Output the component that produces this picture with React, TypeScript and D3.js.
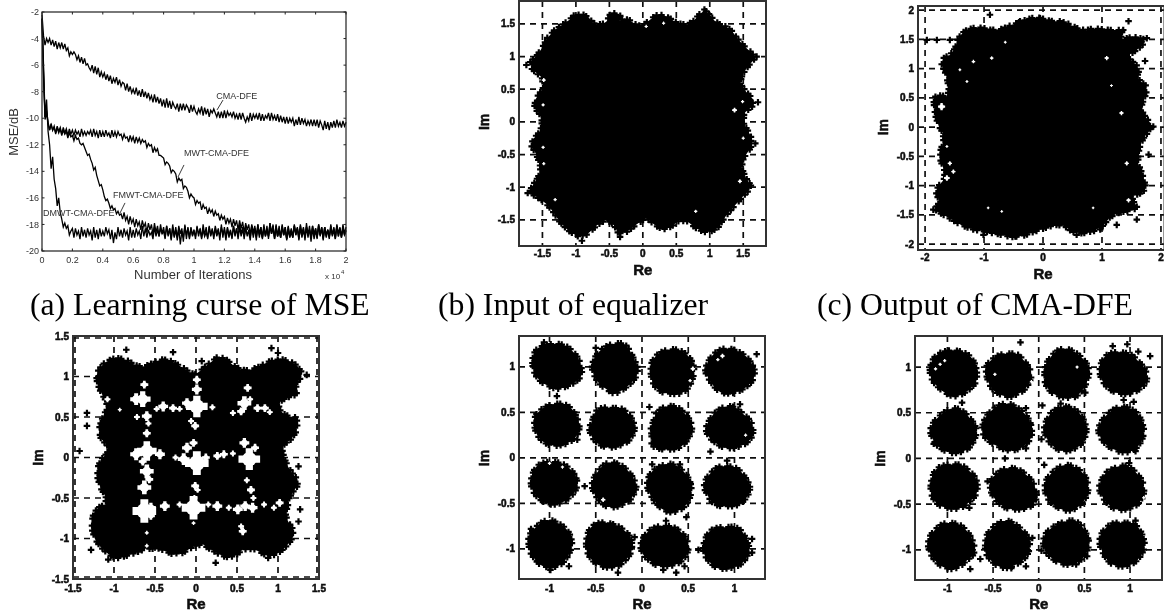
import React from "react";
import * as d3 from "d3";

// ---------- Learning curves (dB) ----------
// first half-steps of each 100-iteration pair
const cmaDfeEven = [
  -2.2,-4.0,-4.3,-4.1,-4.6,-4.3,-4.7,-4.4,-4.9,-5.0,
  -5.2,-5.6,-5.3,-5.9,-5.5,-6.2,-6.4,-6.1,-6.7,-6.5,
  -6.9,-6.7,-7.2,-7.0,-7.3,-7.1,-7.6,-7.9,-7.4,-8.1,
  -7.8,-8.3,-7.9,-8.4,-8.0,-8.6,-8.3,-8.8,-8.4,-9.1,
  -8.6,-9.2,-8.7,-9.1,-9.3,-8.9,-9.4,-9.0,-9.2,-9.5,
  -9.1,-9.3,-9.6,-9.2,-9.7,-9.4,-9.6,-9.9,-9.5,-10.0,
  -9.4,-9.8,-9.6,-10.0,-9.7,-10.1,-9.6,-9.9,-10.2,-9.7,
  -10.0,-9.6,-10.2,-9.8,-10.0,-9.6,-10.1,-9.7,-10.3,-9.9,
  -10.4,-10.0,-10.3,-10.1,-10.5,-10.0,-10.4,-10.2,-10.5,-10.1,
  -10.6,-10.2,-10.5,-10.8,-10.3,-10.7,-10.2,-10.6,-10.3,-10.6,-10.3,
];
const mwtCmaDfeEven = [
  -2.5,-9.6,-10.4,-10.9,-10.7,-11.0,-10.7,-11.1,-10.8,-11.2,
  -10.9,-11.2,-11.0,-11.3,-11.0,-11.2,-10.9,-11.3,-11.0,-11.4,
  -11.0,-11.3,-11.1,-11.4,-11.0,-11.3,-11.2,-11.5,-11.4,-11.7,
  -11.4,-11.8,-11.5,-11.8,-11.7,-12.1,-12.0,-12.5,-12.3,-12.9,
  -13.0,-13.4,-13.6,-14.0,-14.2,-14.7,-14.6,-15.2,-15.5,-15.9,
  -16.0,-16.4,-16.3,-16.8,-16.7,-17.1,-16.9,-17.3,-17.2,-17.6,
  -17.4,-17.9,-17.6,-18.1,-17.7,-18.3,-17.8,-18.4,-18.0,-18.6,
  -18.1,-18.7,-18.2,-18.9,-18.1,-18.7,-18.3,-18.9,-18.1,-18.8,
  -18.2,-18.9,-18.3,-18.7,-18.2,-19.0,-18.3,-18.8,-18.1,-18.9,
  -18.3,-18.8,-18.2,-19.0,-18.4,-18.8,-18.2,-18.9,-18.3,-18.7,-18.2,
];
const fmwtCmaDfeEven = [
  -2.5,-9.4,-10.3,-10.9,-10.6,-11.1,-10.8,-11.2,-11.0,-11.4,
  -11.3,-11.6,-11.5,-11.9,-12.2,-12.7,-13.1,-13.7,-14.3,-15.0,
  -15.4,-16.1,-16.4,-16.9,-16.8,-17.3,-17.2,-17.7,-17.4,-17.9,
  -17.6,-18.1,-17.8,-18.2,-17.9,-18.4,-18.0,-18.6,-18.1,-18.7,
  -18.2,-18.8,-18.3,-18.9,-18.2,-18.7,-18.3,-19.1,-18.2,-18.8,
  -18.4,-18.9,-18.3,-18.8,-18.2,-18.9,-18.4,-18.7,-18.3,-19.0,
  -18.2,-18.8,-18.4,-18.9,-18.3,-18.7,-18.2,-18.9,-18.4,-18.8,
  -18.3,-19.0,-18.2,-18.8,-18.4,-18.7,-18.1,-18.9,-18.3,-18.8,
  -18.2,-18.9,-18.4,-18.8,-18.3,-18.7,-18.2,-19.0,-18.4,-18.7,
  -18.3,-18.9,-18.2,-18.8,-18.4,-18.9,-18.3,-18.7,-18.2,-18.8,-18.4,
];
const dmwtCmaDfeEven = [
  -2.5,-8.6,-11.0,-12.9,-14.6,-16.0,-17.1,-17.9,-18.3,-18.5,
  -18.3,-18.8,-18.5,-18.9,-18.4,-18.8,-18.5,-19.0,-18.4,-18.9,
  -18.5,-18.7,-18.4,-19.4,-18.6,-18.9,-18.4,-18.8,-18.5,-19.0,
  -18.4,-18.8,-18.5,-18.9,-18.3,-18.8,-18.6,-18.9,-18.4,-18.7,
  -18.5,-18.9,-18.3,-19.0,-18.4,-19.5,-18.5,-18.8,-18.3,-18.9,
  -18.5,-18.7,-18.4,-18.9,-18.6,-18.8,-18.3,-18.9,-18.5,-18.7,
  -18.4,-19.0,-18.5,-18.8,-18.3,-18.9,-18.4,-18.7,-18.6,-19.0,
  -18.3,-18.8,-18.5,-18.9,-18.4,-18.7,-18.0,-18.9,-18.5,-18.8,
  -18.4,-19.0,-18.6,-18.8,-18.3,-18.9,-18.5,-18.7,-18.4,-19.1,
  -18.5,-18.8,-18.3,-18.9,-18.4,-18.7,-18.6,-18.9,-18.3,-18.8,-18.5,
];
// second half-steps of each pair
const cmaDfeOdd = [
  -3.8,-4.5,-4.0,-4.5,-4.2,-4.8,-4.3,-4.8,-4.7,-5.3,
  -5.0,-5.2,-5.8,-5.4,-6.0,-5.9,-6.0,-6.6,-6.2,-6.9,
  -6.6,-7.1,-6.8,-7.4,-6.9,-7.5,-7.3,-7.4,-8.0,-7.6,
  -8.2,-7.7,-8.4,-7.8,-8.5,-8.1,-8.8,-8.2,-8.9,-8.5,
  -9.2,-8.5,-9.3,-8.8,-8.9,-9.5,-8.9,-9.4,-9.6,-9.0,
  -9.5,-9.7,-9.1,-9.8,-9.3,-9.9,-9.3,-9.6,-10.0,-9.5,
  -10.0,-9.5,-9.9,-9.5,-10.1,-9.6,-10.0,-10.3,-9.6,-10.2,
  -9.7,-10.1,-9.7,-10.2,-9.6,-10.2,-9.8,-10.2,-9.8,-10.3,
  -9.9,-10.4,-10.0,-10.6,-9.9,-10.5,-10.1,-10.6,-10.1,-10.6,
  -10.1,-10.7,-10.9,-10.2,-10.9,-10.3,-10.7,-10.1,-10.7,-10.2,
];
const mwtCmaDfeOdd = [
  -6.8,-10.1,-10.9,-10.5,-11.1,-10.6,-11.2,-10.7,-11.3,-10.8,
  -11.3,-10.9,-11.4,-10.8,-11.3,-11.0,-11.4,-10.8,-11.5,-10.9,
  -11.4,-10.9,-11.5,-10.9,-11.4,-11.0,-11.6,-11.2,-11.8,-11.3,
  -11.9,-11.4,-11.9,-11.6,-12.2,-11.9,-12.6,-12.2,-12.8,-12.8,
  -13.5,-13.3,-14.1,-13.9,-14.8,-14.5,-15.3,-15.1,-16.0,-15.7,
  -16.5,-16.2,-16.9,-16.5,-17.2,-16.8,-17.4,-17.0,-17.7,-17.3,
  -18.0,-17.5,-18.2,-17.6,-18.4,-17.7,-18.6,-17.9,-18.8,-18.0,
  -18.9,-18.0,-19.0,-18.0,-19.1,-18.1,-19.0,-18.0,-19.0,-18.1,
  -19.1,-18.1,-18.9,-18.0,-19.2,-18.1,-19.0,-17.9,-19.1,-18.1,
  -19.0,-18.0,-19.2,-18.2,-19.0,-18.0,-19.1,-18.1,-18.9,-18.0,
];
const fmwtCmaDfeOdd = [
  -6.5,-9.9,-10.9,-10.4,-11.2,-10.7,-11.3,-10.9,-11.5,-11.1,
  -11.7,-11.3,-11.9,-12.0,-12.5,-12.8,-13.4,-13.9,-14.7,-15.1,
  -15.9,-16.2,-16.8,-16.6,-17.2,-17.0,-17.6,-17.1,-18.0,-17.4,
  -18.2,-17.6,-18.4,-17.7,-18.6,-17.9,-18.8,-17.9,-18.9,-18.0,
  -19.0,-18.1,-19.1,-18.0,-19.0,-18.1,-19.3,-18.0,-19.0,-18.2,
  -19.1,-18.1,-19.0,-18.0,-19.1,-18.2,-18.9,-18.1,-19.2,-18.0,
  -19.0,-18.2,-19.1,-18.1,-18.9,-18.0,-19.1,-18.2,-19.0,-18.1,
  -19.2,-18.0,-19.0,-18.2,-18.9,-17.9,-19.1,-18.1,-19.0,-18.0,
  -19.1,-18.2,-19.0,-18.1,-18.9,-18.0,-19.2,-18.2,-18.9,-18.1,
  -19.1,-18.0,-19.0,-18.2,-19.1,-18.1,-18.9,-18.0,-19.0,-18.2,
];
const dmwtCmaDfeOdd = [
  -6.0,-9.9,-12.0,-13.8,-15.3,-16.6,-17.6,-18.2,-18.1,-18.8,
  -19.0,-18.3,-19.1,-18.2,-19.0,-18.3,-19.2,-18.2,-19.1,-18.3,
  -18.9,-18.2,-19.1,-18.4,-19.1,-18.2,-19.0,-18.3,-19.2,-18.2,
  -19.0,-18.3,-19.1,-18.1,-19.0,-18.4,-19.1,-18.2,-18.9,-18.3,
  -19.1,-18.1,-19.2,-18.2,-19.2,-18.3,-19.0,-18.1,-19.1,-18.3,
  -18.9,-18.2,-19.1,-18.4,-19.0,-18.1,-19.1,-18.3,-18.9,-18.2,
  -19.2,-18.3,-19.0,-18.1,-19.1,-18.2,-18.9,-18.4,-19.2,-18.1,
  -19.0,-18.3,-19.1,-18.2,-18.9,-17.9,-19.1,-18.3,-19.0,-18.2,
  -19.2,-18.4,-19.0,-18.1,-19.1,-18.3,-18.9,-18.2,-19.3,-18.3,
  -19.0,-18.1,-19.1,-18.2,-18.9,-18.4,-19.1,-18.1,-19.0,-18.3,
];
const curveLabels = ["CMA-DFE", "MWT-CMA-DFE", "FMWT-CMA-DFE", "DMWT-CMA-DFE"];
const curveLabelAnchors = [[11460, -8.35], [9340, -12.62], [4670, -15.75], [70, -17.13]];
const curveLeaders = [
  [[11908, -8.63], [11513, -9.38]],
  [[9342, -13.52], [8947, -14.43]],
  [[5461, -16.38], [5132, -17.14]],
];
const iterTicks = [0, 2000, 4000, 6000, 8000, 10000, 12000, 14000, 16000, 18000, 20000];
const iterTickLabels = ["0", "0.2", "0.4", "0.6", "0.8", "1", "1.2", "1.4", "1.6", "1.8", "2"];
const mseTicks = [-2, -4, -6, -8, -10, -12, -14, -16, -18, -20];

const captions = ["(a) Learning curse of MSE", "(b) Input of equalizer", "(c) Output of CMA-DFE"];

// ---------- Constellation outlines, stray symbols and gaps (Re, Im) ----------
const inputOutline = [
  [-1.04,1.64],[-.84,1.64],[-.72,1.48],[-.54,1.51],[-.49,1.67],[-.32,1.65],[-.39,1.54],[-.24,1.59],[-.04,1.44],[.10,1.56],
  [.22,1.65],[.37,1.61],[.51,1.51],[.70,1.48],[.90,1.71],[.97,1.68],[1.10,1.51],[1.30,1.44],[1.45,1.22],[1.70,.99],
  [1.55,.83],[1.45,.64],[1.49,.52],[1.70,.29],[1.45,.08],[1.67,-.32],[1.45,-.63],[1.55,-.89],[1.64,-.99],[1.45,-1.19],
  [1.19,-1.50],[1.15,-1.61],[.97,-1.70],[.82,-1.65],[.60,-1.47],[.36,-1.65],[.21,-1.61],[.06,-1.47],[0,-1.50],[-.34,-1.76],
  [-.45,-1.54],[-.60,-1.50],[-.91,-1.80],[-1.19,-1.61],[-1.39,-1.30],[-1.57,-1.15],[-1.72,-1.09],[-1.51,-.76],[-1.57,-.54],[-1.69,-.32],
  [-1.51,-.12],[-1.51,.08],[-1.66,.26],[-1.43,.61],[-1.73,.87],[-1.54,1.06],[-1.39,1.36],[-1.09,1.56],
];
const inputStrays = [[1.70,1.0],[1.72,.3],[1.68,-.33],[-1.74,.87],[-1.72,-1.09],[.92,1.72],[-.91,-1.82],[-.34,-1.76]];
const inputGaps = [[-1.49,.26,.02],[-1.49,-.39,.02],[-1.48,-.64,.02],[-1.31,-1.19,.02],[.79,-1.37,.02],[.05,1.46,.02],[.31,1.51,.02],[-1.48,.64,.025],[1.37,.18,.03],[1.49,.31,.02],[1.45,-.91,.025],[1.5,-.25,.02]];

const cmaOutline = [
  [-1.41,1.61],[-1.12,1.72],[-.79,1.64],[-.45,1.78],[-.11,1.89],[.12,1.81],[.34,1.81],[.68,1.64],[.85,1.69],[1.08,1.66],
  [1.36,1.66],[1.31,1.49],[1.53,1.55],[1.76,1.49],[1.64,1.35],[1.42,1.21],[1.64,1.01],[1.59,.84],[1.79,.67],[1.64,.30],
  [1.87,.01],[1.67,-.22],[1.59,-.56],[1.70,-.84],[1.76,-1.10],[1.47,-1.19],[1.64,-1.41],[1.19,-1.47],[.97,-1.75],[.57,-1.84],
  [.29,-1.64],[-.05,-1.75],[-.45,-1.90],[-.84,-1.81],[-1.29,-1.73],[-1.63,-1.53],[-1.86,-1.41],[-1.75,-1.30],[-1.83,-1.07],[-1.63,-.84],
  [-1.77,-.50],[-1.66,-.16],[-1.80,.07],[-1.86,.41],[-1.83,.55],[-1.58,.52],[-1.63,.87],[-1.75,1.15],[-1.52,1.26],
];
const cmaStrays = [[-1.97,1.49],[-1.80,1.49],[-1.58,1.49],[-.90,1.92],[-.39,1.81],[-.05,1.86],[1.45,1.81],[1.76,1.52],[1.73,1.13],[1.79,-.47],[1.25,-1.67],[1.59,-1.58],[-1.01,-1.84],[-1.86,-1.41],[-.47,-1.87],[1.87,.01],[1.36,1.66],[.97,-1.75],[.57,-1.84]];
const cmaGaps = [[-.64,1.45,.02],[-.87,1.18,.025],[-1.18,1.12,.025],[-1.29,.78,.02],[1.33,.24,.03],[1.16,.71,.02],[1.08,1.18,.03],[-1.58,-.62,.03],[-1.52,-.76,.03],[-1.63,-.87,.04],[-.70,-1.44,.02],[-.93,-1.38,.02],[.85,-1.38,.02],[1.42,-.62,.03],[-1.63,-.33,.02],[-1.41,.98,.02],[-1.72,.35,.05],[1.45,-1.25,.03]];

const dmwtOutline = [
  [-1.08,1.21],[-.89,1.23],[-.69,1.11],[-.56,1.15],[-.38,1.23],[-.19,1.13],[-.03,1.02],[.03,1.05],[.12,1.13],[.30,1.27],
  [.51,1.09],[.67,1.07],[.98,1.23],[1.21,1.17],[1.31,1.02],[1.21,.90],[1.25,.78],[1.04,.72],[1.00,.61],[1.10,.51],
  [1.25,.49],[1.21,.26],[1.04,.14],[1.08,-.02],[1.14,-.15],[1.27,-.31],[1.14,-.48],[1.12,-.60],[1.08,-.72],[1.21,-.93],
  [1.12,-1.09],[.92,-1.24],[.63,-1.09],[.42,-1.26],[.18,-1.14],[.05,-1.05],[-.23,-1.22],[-.52,-1.09],[-.91,-1.24],[-1.02,-1.24],
  [-1.22,-1.05],[-1.28,-.85],[-1.24,-.64],[-1.06,-.56],[-1.20,-.31],[-1.20,-.07],[-1.04,.10],[-1.20,.28],[-1.14,.51],[-1.06,.63],
  [-1.20,.88],[-1.22,1.05],
];
const dmwtStrays = [[-.85,1.33],[-.28,1.30],[.07,1.19],[.92,1.35],[1.00,1.29],[1.35,1.02],[-1.33,.55],[-1.33,.39],[-1.42,.08],[1.25,-.11],[1.27,-.64],[1.25,-.79],[-1.28,-1.14],[-1.07,-1.26],[.24,-1.30],[.88,-1.24],[1.2,.47]];
const dmwtGaps = [
  [-.65,.72,.08],[-.73,.72,.06],[-.60,.51,.05],[-.60,.30,.04],[-.40,.63,.05],[-.28,.61,.04],[.01,.63,.11],[-.11,.67,.05],[-.01,.39,.04],[-.03,.18,.04],
  [-.60,.08,.10],[-.73,.04,.06],[-.44,.04,.05],[-.11,.12,.05],[.01,-.07,.12],[-.15,-.02,.06],[.26,.02,.04],[.34,.04,.04],[.65,-.02,.11],[.59,.18,.05],
  [.67,-.40,.04],[.59,.67,.07],[.75,.61,.04],[.84,.61,.04],[.55,.57,.04],[-.63,-.37,.07],[-.60,-.17,.07],[-.63,-.66,.12],[-.38,-.60,.05],[-.03,-.62,.12],
  [.26,-.60,.05],[.51,-.64,.05],[.69,-.62,.05],[1.02,-.56,.04],[-.01,-.35,.04],[.01,.84,.05],[-.63,.90,.04],[.63,.86,.04],[.01,.96,.04],[-.03,-.81,.02],
  [.57,-.91,.04],[-.60,-.93,.02],[-.60,-1.09,.02],[-1.08,.72,.03],[-.93,.59,.02],[.02,-.4,.03],[-.55,-.62,.05],[.6,-.6,.05],
  [-.48,.60,.03],[-.2,.6,.03],[.2,.62,.03],[.45,.55,.03],[.66,.72,.03],[.9,.56,.03],[-.72,.5,.03],[-.58,.42,.03],[-.06,.45,.03],[-.57,-.27,.04],
  [-.65,-.05,.04],[.12,.0,.04],[.45,.05,.03],[-.25,.0,.03],[.72,.12,.04],[.62,-.28,.03],[.7,-.5,.03],[-.55,-.72,.04],[-.2,-.58,.03],[.15,-.58,.03],
  [.4,-.62,.03],[.83,-.58,.03],[.95,-.62,.03],[.55,-.85,.03],[-.02,-.5,.03],
];

// cluster centres (Re, Im) and radii, 16 directions counter-clockwise from east
const fmwtCentres = [
  [-.92,1.01],[-.30,1.00],[.33,.96],[.95,.96],
  [-.92,.37],[-.32,.33],[.30,.33],[.95,.33],
  [-.95,-.28],[-.31,-.30],[.29,-.32],[.92,-.32],
  [-.99,-.95],[-.36,-.96],[.26,-.97],[.91,-.99],
];
const fmwtRadii = [
  [.28,.26,.25,.26,.26,.27,.31,.30,.28,.27,.26,.25,.27,.26,.28,.31],
  [.27,.24,.26,.30,.27,.26,.25,.25,.26,.25,.26,.27,.32,.28,.27,.28],
  [.25,.25,.25,.25,.25,.25,.26,.26,.25,.26,.28,.28,.27,.29,.27,.25],
  [.29,.26,.25,.24,.26,.27,.27,.27,.29,.26,.26,.28,.27,.26,.27,.29],
  [.26,.24,.25,.25,.24,.24,.25,.27,.26,.26,.26,.26,.25,.25,.26,.27],
  [.26,.25,.25,.25,.23,.26,.28,.24,.27,.26,.25,.24,.23,.22,.24,.25],
  [.26,.25,.24,.26,.26,.25,.23,.20,.22,.22,.30,.27,.25,.26,.25,.25],
  [.27,.25,.22,.24,.26,.25,.25,.25,.28,.27,.24,.24,.24,.24,.26,.28],
  [.27,.26,.25,.25,.25,.27,.29,.27,.27,.26,.25,.25,.25,.24,.24,.26],
  [.27,.24,.24,.25,.27,.27,.24,.24,.25,.24,.24,.26,.26,.25,.26,.26],
  [.26,.25,.25,.26,.28,.26,.27,.26,.25,.23,.23,.26,.30,.30,.29,.27],
  [.27,.24,.24,.25,.24,.26,.25,.26,.27,.24,.25,.24,.22,.24,.25,.26],
  [.25,.25,.26,.26,.29,.28,.26,.27,.25,.25,.25,.27,.27,.27,.25,.24],
  [.27,.27,.25,.25,.26,.29,.30,.27,.26,.26,.26,.26,.26,.27,.26,.27],
  [.26,.25,.24,.24,.24,.25,.27,.28,.30,.28,.25,.25,.23,.24,.25,.26],
  [.27,.25,.27,.27,.24,.26,.28,.26,.27,.26,.25,.26,.24,.24,.26,.26],
];
const fmwtStrays = [[-.62,-.31],[-.92,.68],[-.70,.20],[1.24,1.14],[.74,.07],[.92,-.03],[1.06,.59],[.08,.56],[.41,-.07],[.11,-.07],[.26,-.69],[.48,-.65],[.61,-1.01],[1.19,-.89],[1.19,-1.04],[.37,-1.26],[.23,-1.23],[.46,-1.19],[-.26,-1.26],[-.79,-1.19],[-.99,-1.23],[-1.13,-1.13],[-1.20,-.78],[-.08,-.87],[-.50,1.21],[-1.06,1.27]];
const fmwtGaps = [[.55,.98,.02],[.87,1.12,.02],[.82,1.08,.015],[.52,.85,.015],[1.12,.25,.015],[-1.0,-.06,.015],[-.42,-.46,.02],[-.86,-.1,.015]];

const dfeCentres = [
  [-.93,.93],[-.33,.92],[.30,.93],[.93,.93],
  [-.93,.30],[-.34,.33],[.29,.32],[.91,.31],
  [-.93,-.30],[-.28,-.33],[.30,-.32],[.91,-.32],
  [-.96,-.95],[-.34,-.94],[.30,-.93],[.91,-.94],
];
const dfeRadii = [
  [.27,.27,.28,.27,.27,.28,.30,.29,.28,.26,.24,.25,.27,.26,.26,.28],
  [.27,.25,.24,.26,.24,.25,.26,.28,.26,.25,.26,.25,.27,.25,.26,.26],
  [.27,.27,.26,.27,.29,.29,.26,.26,.25,.27,.28,.28,.28,.30,.27,.26],
  [.27,.24,.22,.24,.24,.27,.30,.29,.28,.26,.25,.24,.24,.25,.26,.29],
  [.27,.25,.24,.26,.27,.25,.24,.26,.28,.26,.26,.25,.26,.26,.27,.26],
  [.28,.27,.26,.27,.29,.29,.28,.29,.30,.29,.25,.24,.26,.27,.28,.30],
  [.25,.24,.25,.26,.27,.26,.25,.24,.25,.24,.24,.25,.26,.25,.26,.25],
  [.26,.25,.27,.27,.28,.26,.25,.26,.28,.26,.25,.24,.26,.27,.27,.26],
  [.28,.27,.25,.26,.25,.26,.29,.27,.27,.28,.29,.27,.27,.27,.26,.28],
  [.26,.24,.22,.23,.24,.25,.26,.28,.27,.25,.24,.24,.24,.26,.30,.30],
  [.26,.26,.26,.26,.27,.25,.24,.25,.25,.25,.25,.25,.27,.27,.26,.26],
  [.26,.25,.24,.26,.26,.24,.26,.25,.27,.25,.25,.26,.26,.26,.27,.27],
  [.27,.25,.25,.26,.26,.27,.26,.27,.27,.26,.26,.27,.28,.27,.25,.29],
  [.26,.25,.24,.25,.28,.27,.26,.27,.26,.28,.27,.28,.28,.25,.26,.26],
  [.27,.26,.27,.29,.26,.24,.25,.27,.27,.26,.24,.24,.25,.25,.26,.26],
  [.27,.26,.28,.27,.25,.27,.27,.27,.26,.24,.25,.26,.26,.26,.26,.26],
];
const dfeStrays = [[-.20,1.27],[.81,1.23],[.97,1.25],[1.22,1.12],[1.09,1.17],[.51,.72],[-.84,.61],[.04,.58],[.24,.60],[.93,.64],[1.04,.62],[-.14,.55],[-1.15,.16],[-.14,.11],[.03,.21],[-.37,0],[.06,-.07],[1.06,.08],[.99,-.05],[-.56,-.25],[-.76,-.54],[-.64,-1.10],[-.75,-1.21],[.03,-1.01],[-.07,-.87],[.53,-1.07],[.41,-1.16],[-.30,-1.20],[-.14,-1.18],[1.06,-.68]];
const dfeGaps = [[-1.13,.98,.015],[-1.08,1.03,.015],[-1.03,1.07,.015],[-.08,.84,.015],[.42,1.0,.015],[1.15,-.43,.015],[-.48,.92,.015]];

const tickB = [-1.5, -1, -0.5, 0, 0.5, 1, 1.5];
const tickC = [-2, -1, 0, 1, 2];
const tickCy = [-2, -1.5, -1, -0.5, 0, 0.5, 1, 1.5, 2];
const tickE = [-1, -0.5, 0, 0.5, 1];

const FONT = "'Liberation Sans', Arial, sans-serif";
const stamp = d3.symbol(d3.symbolCross, 24)() as string;
const stampSpacing = [5, 3, 7, 4, 6, 3, 8, 4, 5, 7, 3, 6];

type Box = { l: number; r: number; t: number; b: number; xd: number[]; yd: number[] };

function blobOutline(c: number[], radii: number[]) {
  return radii.map((rad, i) => {
    const a = (i / radii.length) * 2 * Math.PI;
    return [c[0] + 0.95 * rad * Math.cos(a), c[1] + 0.95 * rad * Math.sin(a)];
  });
}

// corner-cutting so the outline rounds off the way the dense symbol cloud does
function rounded(points: number[][]) {
  const out: number[][] = [];
  points.forEach((p, i) => {
    const q = points[(i + 1) % points.length];
    out.push([p[0] * 0.75 + q[0] * 0.25, p[1] * 0.75 + q[1] * 0.25]);
    out.push([p[0] * 0.25 + q[0] * 0.75, p[1] * 0.25 + q[1] * 0.75]);
  });
  return out;
}

// pixel positions of the edge symbols along a closed pixel outline
function edgeStamps(px: number[][]) {
  const out: number[][] = [];
  let next = 2, walked = 0, s = 0;
  px.forEach((p, i) => {
    const q = px[(i + 1) % px.length];
    const len = Math.hypot(q[0] - p[0], q[1] - p[1]);
    while (next <= walked + len) {
      const t = (next - walked) / len;
      out.push([p[0] + (q[0] - p[0]) * t, p[1] + (q[1] - p[1]) * t]);
      next += stampSpacing[s++ % stampSpacing.length];
    }
    walked += len;
  });
  return out;
}

function Scatter({ box, xTicks, yTicks, outlines, strays, gaps, imX, tickDy, reDy, inset, smooth }: {
  box: Box; xTicks: number[]; yTicks: number[]; outlines: number[][][]; strays: number[][]; gaps: number[][];
  imX: number; tickDy: number; reDy: number; inset?: boolean; smooth?: boolean;
}) {
  const x = d3.scaleLinear().domain(box.xd).range([box.l, box.r]);
  const y = d3.scaleLinear().domain(box.yd).range([box.b, box.t]);
  const k = Math.abs(x(1) - x(0));
  const dash = { stroke: "#111", strokeWidth: 1.7, strokeDasharray: "6 5" };
  const shapes = outlines.map((o) => (smooth ? rounded(rounded(o)) : rounded(o)).map((p) => [x(p[0]), y(p[1])]));
  const line = d3.line().curve(d3.curveLinearClosed);
  return (
    <g filter="url(#soft)">
      <rect x={box.l} y={box.t} width={box.r - box.l} height={box.b - box.t} fill="#fff" />
      {xTicks.map((v) => <line key={v} x1={x(v)} x2={x(v)} y1={box.t} y2={box.b} {...dash} />)}
      {yTicks.map((v) => <line key={v} x1={box.l} x2={box.r} y1={y(v)} y2={y(v)} {...dash} />)}
      {inset && (
        <g>
          <line x1={box.l + 2} x2={box.l + 2} y1={box.t} y2={box.b} {...dash} />
          <line x1={box.r - 2} x2={box.r - 2} y1={box.t} y2={box.b} {...dash} />
          <line x1={box.l} x2={box.r} y1={box.t + 2} y2={box.t + 2} {...dash} />
          <line x1={box.l} x2={box.r} y1={box.b - 2} y2={box.b - 2} {...dash} />
        </g>
      )}
      {shapes.map((o, i) => (
        <g key={i}>
          <path d={line(o as [number, number][]) as string} fill="#000" />
          {edgeStamps(o).map((p, j) => <path key={j} d={stamp} transform={`translate(${p[0]},${p[1]})`} fill="#000" />)}
        </g>
      ))}
      {strays.map((p, j) => <path key={j} d={stamp} transform={`translate(${x(p[0])},${y(p[1])})`} fill="#000" />)}
      {gaps.map((p, j) => {
        const r = Math.max(1, p[2] * k);
        const whitePlus = d3.symbol(d3.symbolCross, 3.2 * r * r)() as string;
        return (
          <g key={j} transform={`translate(${x(p[0])},${y(p[1])})`}>
            <circle r={r * 0.8} fill="#fff" />
            <path d={whitePlus} fill="#fff" />
          </g>
        );
      })}
      <rect x={box.l} y={box.t} width={box.r - box.l} height={box.b - box.t} fill="none" stroke="#333" strokeWidth={2} />
      <g fontFamily={FONT} fontWeight="bold" fill="#111" stroke="#111" strokeWidth={0.55} fontSize={10}>
        {xTicks.map((v) => <text key={v} x={x(v)} y={box.b + tickDy} dy="0.35em" textAnchor="middle">{String(v)}</text>)}
        {yTicks.map((v) => <text key={v} x={box.l - 4} y={y(v)} dy="0.35em" textAnchor="end">{String(v)}</text>)}
        <text x={x(0)} y={box.b + reDy} dy="0.35em" textAnchor="middle" fontSize={15}>Re</text>
        <text transform={`translate(${imX},${y(0)}) rotate(-90)`} textAnchor="middle" dy="0.35em" fontSize={14}>Im</text>
      </g>
    </g>
  );
}

function LearningCurves() {
  const x = d3.scaleLinear().domain([0, 20000]).range([42, 346]);
  const y = d3.scaleLinear().domain([-20, -2]).range([251, 12]);
  const path = d3.line<number>().x((_, i) => x(i * 100)).y((d) => y(d));
  // the paired arrays are read in the order that keeps the sample-to-sample swing of the trace
  const weave = (even: number[], odd: number[]) =>
    even.flatMap((v, i) => (i < odd.length ? (i % 2 ? [odd[i], v] : [v, odd[i]]) : [v]));
  const series = [
    weave(cmaDfeEven, cmaDfeOdd),
    weave(mwtCmaDfeEven, mwtCmaDfeOdd),
    weave(fmwtCmaDfeEven, fmwtCmaDfeOdd),
    weave(dmwtCmaDfeEven, dmwtCmaDfeOdd),
  ];
  return (
    <g filter="url(#softer)">
      {series.map((s, i) => <path key={i} d={path(s) as string} fill="none" stroke="#000" strokeWidth={1.3} />)}
      <rect x={42} y={12} width={304} height={239} fill="none" stroke="#222" strokeWidth={1.2} />
      {iterTicks.map((t) => (
        <g key={t} stroke="#222">
          <line x1={x(t)} x2={x(t)} y1={251} y2={248.5} />
          <line x1={x(t)} x2={x(t)} y1={12} y2={14.5} />
        </g>
      ))}
      {mseTicks.map((t) => (
        <g key={t} stroke="#222">
          <line x1={42} x2={44.5} y1={y(t)} y2={y(t)} />
          <line x1={346} x2={343.5} y1={y(t)} y2={y(t)} />
        </g>
      ))}
      <g fontFamily={FONT} fill="#333">
        {iterTicks.map((t, i) => <text key={t} x={x(t)} y={260} dy="0.35em" textAnchor="middle" fontSize={9}>{iterTickLabels[i]}</text>)}
        {mseTicks.map((t) => <text key={t} x={39} y={y(t)} dy="0.35em" textAnchor="end" fontSize={9}>{t}</text>)}
        <text x={193} y={274} dy="0.35em" textAnchor="middle" fontSize={13}>Number of Iterations</text>
        <text transform="translate(13,132) rotate(-90)" dy="0.35em" textAnchor="middle" fontSize={13}>MSE/dB</text>
        <text x={325} y={276} dy="0.35em" fontSize={8}>x 10</text>
        <text x={341} y={272} dy="0.35em" fontSize={6}>4</text>
        {curveLabels.map((t, i) => (
          <text key={t} x={x(curveLabelAnchors[i][0])} y={y(curveLabelAnchors[i][1])} dy="0.35em" fontSize={9}>{t}</text>
        ))}
      </g>
      {curveLeaders.map((l, i) => (
        <line key={i} x1={x(l[0][0])} y1={y(l[0][1])} x2={x(l[1][0])} y2={y(l[1][1])} stroke="#222" strokeWidth={0.9} />
      ))}
    </g>
  );
}

export default function App() {
  const fmwtBlobs = fmwtRadii.map((r, i) => blobOutline(fmwtCentres[i], r));
  const dfeBlobs = dfeRadii.map((r, i) => blobOutline(dfeCentres[i], r));
  return (
    <svg width={1164} height={612} viewBox="0 0 1164 612" style={{ position: "absolute", left: 0, top: 0, background: "#fff" }}>
      <defs>
        <filter id="soft" x="-5%" y="-5%" width="110%" height="110%"><feGaussianBlur stdDeviation="0.55" /></filter>
        <filter id="softer" x="-5%" y="-5%" width="110%" height="110%"><feGaussianBlur stdDeviation="0.35" /></filter>
      </defs>
      <LearningCurves />
      <Scatter box={{ l: 519, r: 766, t: 1, b: 246, xd: [-1.85, 1.84], yd: [-1.9, 1.85] }} xTicks={tickB} yTicks={tickB}
        outlines={[inputOutline]} strays={inputStrays} gaps={inputGaps} imX={484} tickDy={7} reDy={24} />
      <Scatter box={{ l: 918, r: 1164.5, t: 6, b: 250, xd: [-2.12, 2.06], yd: [-2.1, 2.07] }} xTicks={tickC} yTicks={tickCy}
        outlines={[cmaOutline]} strays={cmaStrays} gaps={cmaGaps} imX={883} tickDy={7} reDy={24} />
      <Scatter box={{ l: 73, r: 319, t: 336, b: 579, xd: [-1.5, 1.5], yd: [-1.5, 1.5] }} xTicks={tickB} yTicks={tickB}
        outlines={[dmwtOutline]} strays={dmwtStrays} gaps={dmwtGaps} imX={38} tickDy={9} reDy={25} inset />
      <Scatter box={{ l: 519, r: 765, t: 336, b: 579, xd: [-1.33, 1.33], yd: [-1.33, 1.34] }} xTicks={tickE} yTicks={tickE}
        outlines={fmwtBlobs} strays={fmwtStrays} gaps={fmwtGaps} imX={484} tickDy={9} reDy={25} smooth />
      <Scatter box={{ l: 915, r: 1162, t: 336, b: 580, xd: [-1.355, 1.35], yd: [-1.33, 1.34] }} xTicks={tickE} yTicks={tickE}
        outlines={dfeBlobs} strays={dfeStrays} gaps={dfeGaps} imX={880} tickDy={8} reDy={24} smooth />
      <g fontFamily="'Liberation Serif', 'Times New Roman', serif" fontSize={31.7} fill="#000" filter="url(#softer)">
        <text x={30} y={315}>{captions[0]}</text>
        <text x={438} y={315}>{captions[1]}</text>
        <text x={817} y={315}>{captions[2]}</text>
      </g>
    </svg>
  );
}
